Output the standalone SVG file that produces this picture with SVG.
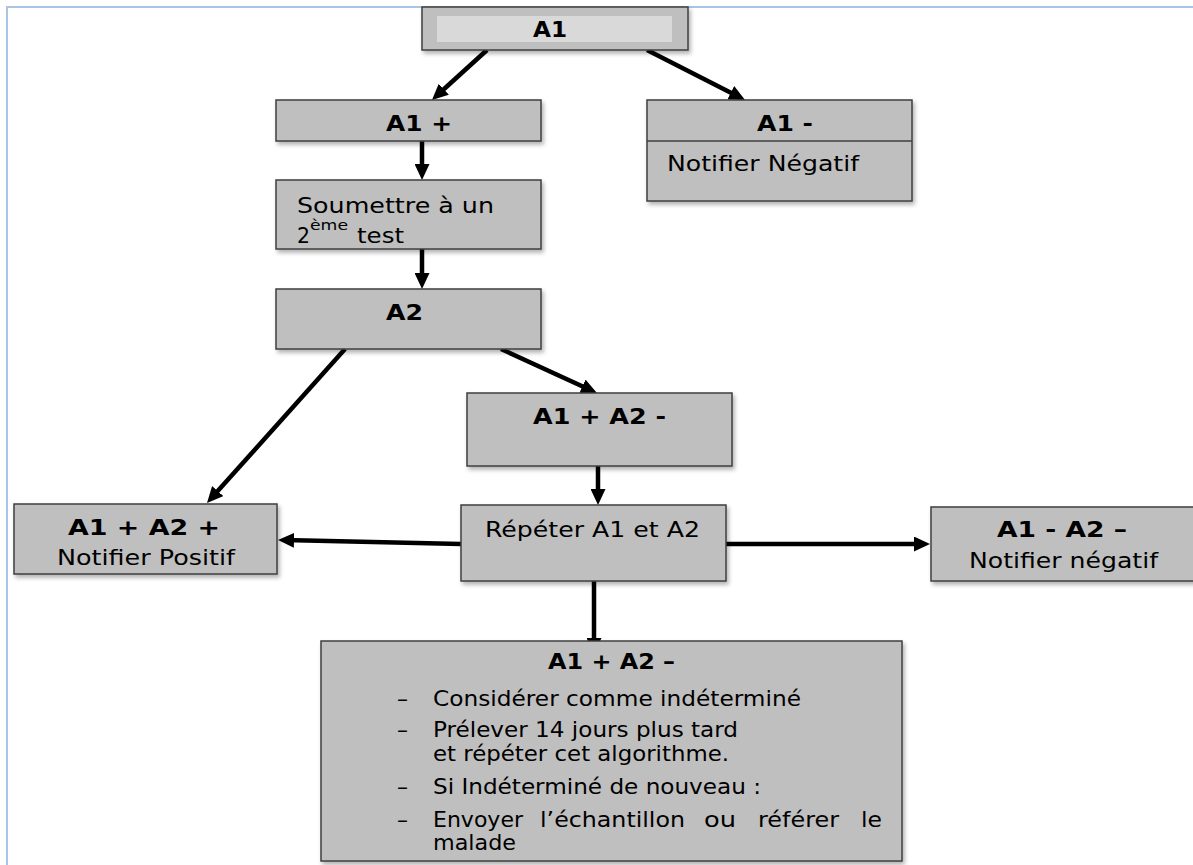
<svg xmlns="http://www.w3.org/2000/svg" width="1193" height="865" viewBox="0 0 1193 865">
<style>
.box{fill:#bfbfbf;stroke:#3f3f3f;stroke-width:1.5;filter:url(#sh)}
.t{font-family:"DejaVu Sans",Verdana,sans-serif;font-size:22px;fill:#000}
.b{font-family:"DejaVu Sans",Verdana,sans-serif;font-size:20.5px;font-weight:bold;fill:#000}
.s{font-family:"DejaVu Sans",Verdana,sans-serif;font-size:21px;fill:#000}
.sup{font-family:"DejaVu Sans",Verdana,sans-serif;font-size:14px;fill:#000}
.c{stroke:#000;stroke-width:4.5;fill:none;marker-end:url(#ah)}
.frame{stroke:#a9c4e4;stroke-width:2;fill:none}
</style>
<defs>
<filter id="sh" x="-10%" y="-10%" width="130%" height="140%">
<feDropShadow dx="2" dy="3" stdDeviation="2" flood-color="#000" flood-opacity="0.3"/>
</filter>
<marker id="ah" markerUnits="userSpaceOnUse" markerWidth="16" markerHeight="15" viewBox="0 0 16 15" refX="10" refY="7.5" orient="auto">
<path d="M0,0 L16,7.5 L0,15 Z" fill="#000"/>
</marker>
</defs>
<rect width="1193" height="865" fill="#fff"/>
<path class="frame" d="M7,865 V7 H1193"/>
<g id="connectors">
<line class="c" x1="487" y1="50" x2="436.4" y2="96"/>
<line class="c" x1="647" y1="50" x2="739.7" y2="97.3"/>
<line class="c" x1="422" y1="141" x2="422" y2="174"/>
<line class="c" x1="422" y1="249" x2="422" y2="283"/>
<line class="c" x1="345" y1="349" x2="211" y2="498.5"/>
<line class="c" x1="501" y1="349" x2="591.5" y2="390.5"/>
<line class="c" x1="598" y1="466" x2="598" y2="499"/>
<line class="c" x1="461" y1="544" x2="284" y2="540.1"/>
<line class="c" x1="726" y1="544" x2="924" y2="544"/>
<line class="c" x1="594" y1="581" x2="594" y2="648"/>
</g>
<g id="n-a1">
<rect class="box" x="422" y="7" width="266" height="43"/>
<rect x="437" y="16" width="235" height="26" fill="#d9d9d9"/>
<text class="b" x="533" y="37" textLength="34" lengthAdjust="spacingAndGlyphs">A1</text>
</g>
<g id="n-a1plus">
<rect class="box" x="276" y="100" width="265" height="41"/>
<text class="b" x="386" y="131" textLength="66" lengthAdjust="spacingAndGlyphs">A1 +</text>
</g>
<g id="n-a1minus">
<rect class="box" x="647" y="100" width="265" height="101"/>
<line x1="647" y1="141" x2="912" y2="141" stroke="#3f3f3f" stroke-width="1.5"/>
<text class="b" x="757" y="131" textLength="56" lengthAdjust="spacingAndGlyphs">A1 -</text>
<text class="t" x="667" y="171" textLength="192" lengthAdjust="spacingAndGlyphs">Notifier Négatif</text>
</g>
<g id="n-soumettre">
<rect class="box" x="276" y="180" width="265" height="69"/>
<text class="t" x="297" y="213" textLength="197" lengthAdjust="spacingAndGlyphs">Soumettre à un</text>
<text class="t" x="297" y="243" textLength="13" lengthAdjust="spacingAndGlyphs">2</text>
<text class="sup" x="310" y="230" textLength="38" lengthAdjust="spacingAndGlyphs">ème</text>
<text class="t" x="357" y="243" textLength="47" lengthAdjust="spacingAndGlyphs">test</text>
</g>
<g id="n-a2">
<rect class="box" x="276" y="289" width="265" height="60"/>
<text class="b" x="386" y="320" textLength="37" lengthAdjust="spacingAndGlyphs">A2</text>
</g>
<g id="n-a1plus-a2minus">
<rect class="box" x="467" y="393" width="265" height="73"/>
<text class="b" x="533" y="424" textLength="133" lengthAdjust="spacingAndGlyphs">A1 + A2 -</text>
</g>
<g id="n-repeter">
<rect class="box" x="461" y="505" width="265" height="76"/>
<text class="t" x="485" y="537" textLength="215" lengthAdjust="spacingAndGlyphs">Répéter A1 et A2</text>
</g>
<g id="n-positif">
<rect class="box" x="14" y="504" width="263" height="70"/>
<text class="b" x="68" y="535" textLength="152" lengthAdjust="spacingAndGlyphs">A1 + A2  +</text>
<text class="t" x="57" y="565" textLength="178" lengthAdjust="spacingAndGlyphs">Notifier Positif</text>
</g>
<g id="n-negatif">
<rect class="box" x="931" y="507" width="270" height="74"/>
<text class="b" x="997" y="537" textLength="130" lengthAdjust="spacingAndGlyphs">A1 - A2 –</text>
<text class="t" x="969" y="568" textLength="189" lengthAdjust="spacingAndGlyphs">Notifier négatif</text>
</g>
<g id="n-indetermine">
<rect class="box" x="321" y="641" width="581" height="220"/>
<text class="b" x="548" y="669" textLength="127" lengthAdjust="spacingAndGlyphs">A1 + A2 –</text>
<text class="s" x="397" y="706" textLength="11" lengthAdjust="spacingAndGlyphs">–</text>
<text class="s" x="433" y="706" textLength="368" lengthAdjust="spacingAndGlyphs">Considérer comme  indéterminé</text>
<text class="s" x="397" y="737" textLength="11" lengthAdjust="spacingAndGlyphs">–</text>
<text class="s" x="433" y="737" textLength="305" lengthAdjust="spacingAndGlyphs">Prélever 14 jours plus tard</text>
<text class="s" x="433" y="761" textLength="296" lengthAdjust="spacingAndGlyphs">et répéter cet algorithme.</text>
<text class="s" x="397" y="794" textLength="11" lengthAdjust="spacingAndGlyphs">–</text>
<text class="s" x="433" y="794" textLength="328" lengthAdjust="spacingAndGlyphs">Si Indéterminé de nouveau :</text>
<text class="s" x="397" y="827" textLength="11" lengthAdjust="spacingAndGlyphs">–</text>
<text class="s" x="433" y="827" textLength="90" lengthAdjust="spacingAndGlyphs">Envoyer</text>
<text class="s" x="540" y="827" textLength="145" lengthAdjust="spacingAndGlyphs">l’échantillon</text>
<text class="s" x="704" y="827" textLength="32" lengthAdjust="spacingAndGlyphs">ou</text>
<text class="s" x="758" y="827" textLength="81" lengthAdjust="spacingAndGlyphs">référer</text>
<text class="s" x="861" y="827" textLength="21" lengthAdjust="spacingAndGlyphs">le</text>
<text class="s" x="433" y="850" textLength="83" lengthAdjust="spacingAndGlyphs">malade</text>
</g>
</svg>
